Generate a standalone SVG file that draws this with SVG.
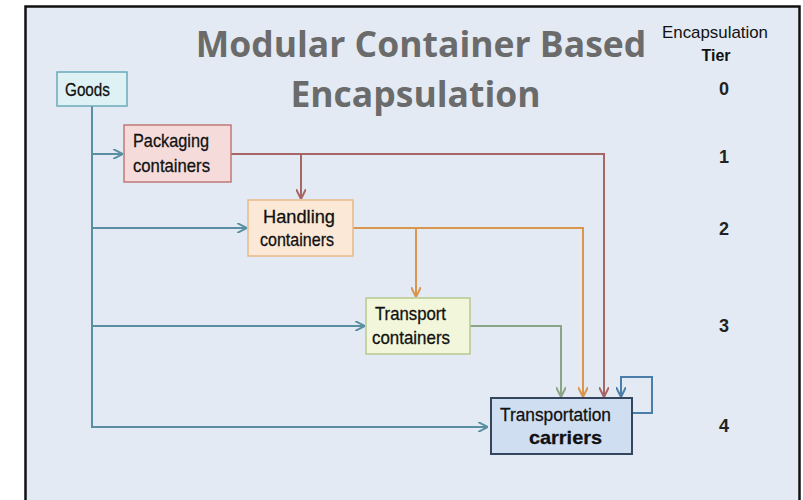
<svg xmlns="http://www.w3.org/2000/svg" width="803" height="500" viewBox="0 0 803 500">
<defs>
<style>
.bg{fill:#e3eaf3;stroke:#111;stroke-width:2.5}
.lbl{font-family:"Liberation Sans",Arial,sans-serif;font-size:19px;fill:#111;stroke:#111;stroke-width:0.3}
.title{font-family:"Open Sans","Liberation Sans",sans-serif;font-weight:bold;font-size:35.5px;fill:#6b6b6b;text-anchor:middle}
.tier{font-family:"Liberation Sans",Arial,sans-serif;font-size:17px;fill:#111}
.num{font-family:"Liberation Sans",Arial,sans-serif;font-size:18px;font-weight:bold;fill:#222;text-anchor:middle}
.c{fill:none;stroke-width:2}
</style>
<marker id="aT" viewBox="0 0 10 10" refX="9" refY="5" markerWidth="5" markerHeight="5" orient="auto"><path d="M0,0 L10,5 L0,10" fill="none" stroke="#5a8fa3" stroke-width="2"/></marker>
<marker id="aR" viewBox="0 0 10 10" refX="9" refY="5" markerWidth="5" markerHeight="5" orient="auto"><path d="M0,0 L10,5 L0,10" fill="none" stroke="#a86565" stroke-width="2"/></marker>
<marker id="aO" viewBox="0 0 10 10" refX="9" refY="5" markerWidth="5" markerHeight="5" orient="auto"><path d="M0,0 L10,5 L0,10" fill="none" stroke="#d9964c" stroke-width="2"/></marker>
<marker id="aG" viewBox="0 0 10 10" refX="9" refY="5" markerWidth="5" markerHeight="5" orient="auto"><path d="M0,0 L10,5 L0,10" fill="none" stroke="#8aa587" stroke-width="2"/></marker>
<marker id="aB" viewBox="0 0 10 10" refX="9" refY="5" markerWidth="5" markerHeight="5" orient="auto"><path d="M0,0 L10,5 L0,10" fill="none" stroke="#4a7ea8" stroke-width="2"/></marker>
</defs>
<rect x="0" y="0" width="803" height="500" fill="#ffffff"/>
<rect class="bg" x="25.5" y="6.5" width="774" height="510"/>

<g id="title">
<text class="title" x="421" y="57">Modular Container Based</text>
<text class="title" x="415.5" y="107">Encapsulation</text>
</g>

<g id="tiers">
<text class="tier" x="662" y="38" textLength="106" lengthAdjust="spacingAndGlyphs">Encapsulation</text>
<text class="tier" x="716" y="61" text-anchor="middle" font-weight="bold" textLength="29" lengthAdjust="spacingAndGlyphs">Tier</text>
<text class="num" x="724" y="95">0</text>
<text class="num" x="724" y="163">1</text>
<text class="num" x="724" y="235">2</text>
<text class="num" x="724" y="332">3</text>
<text class="num" x="724" y="432">4</text>
</g>

<g id="connectors">
<path class="c" stroke="#5a8fa3" d="M92,106 V427 H487" marker-end="url(#aT)"/>
<path class="c" stroke="#5a8fa3" d="M92,154 H122" marker-end="url(#aT)"/>
<path class="c" stroke="#5a8fa3" d="M92,228 H246" marker-end="url(#aT)"/>
<path class="c" stroke="#5a8fa3" d="M92,326 H364" marker-end="url(#aT)"/>
<path class="c" stroke="#a86565" d="M231,154 H604 V396" marker-end="url(#aR)"/>
<path class="c" stroke="#a86565" d="M301,154 V198" marker-end="url(#aR)"/>
<path class="c" stroke="#d9964c" d="M353,228 H583 V396" marker-end="url(#aO)"/>
<path class="c" stroke="#d9964c" d="M416,228 V296" marker-end="url(#aO)"/>
<path class="c" stroke="#8aa587" d="M470,326 H561 V396" marker-end="url(#aG)"/>
<path class="c" stroke="#4a7ea8" d="M632,413 H652 V377 H621 V396" marker-end="url(#aB)"/>
</g>

<g id="goods">
<rect x="57" y="72" width="70" height="34" fill="#def2f6" stroke="#6aaab8" stroke-width="1.5"/>
<text class="lbl" x="65" y="96" font-size="17" textLength="45" lengthAdjust="spacingAndGlyphs">Goods</text>
</g>

<g id="packaging">
<rect x="124" y="125" width="107" height="57" fill="#f5dcda" stroke="#c07a78" stroke-width="1.5"/>
<text class="lbl" x="133" y="147" textLength="76" lengthAdjust="spacingAndGlyphs">Packaging</text>
<text class="lbl" x="133" y="172" textLength="77" lengthAdjust="spacingAndGlyphs">containers</text>
</g>

<g id="handling">
<rect x="248" y="200" width="105" height="56" fill="#fbe8d6" stroke="#e6b98a" stroke-width="1.5"/>
<text class="lbl" x="263" y="223" textLength="72" lengthAdjust="spacingAndGlyphs">Handling</text>
<text class="lbl" x="260" y="246" textLength="74" lengthAdjust="spacingAndGlyphs">containers</text>
</g>

<g id="transport">
<rect x="366" y="298" width="104" height="56" fill="#f2f6da" stroke="#b8c98e" stroke-width="1.5"/>
<text class="lbl" x="375" y="320" textLength="71" lengthAdjust="spacingAndGlyphs">Transport</text>
<text class="lbl" x="372" y="344" textLength="78" lengthAdjust="spacingAndGlyphs">containers</text>
</g>

<g id="carriers">
<rect x="491" y="398" width="141" height="56" fill="#cfdff1" stroke="#34455e" stroke-width="2"/>
<text class="lbl" x="500" y="421" textLength="111" lengthAdjust="spacingAndGlyphs">Transportation</text>
<text class="lbl" x="529" y="444" textLength="73" lengthAdjust="spacingAndGlyphs" font-weight="bold">carriers</text>
</g>
</svg>
